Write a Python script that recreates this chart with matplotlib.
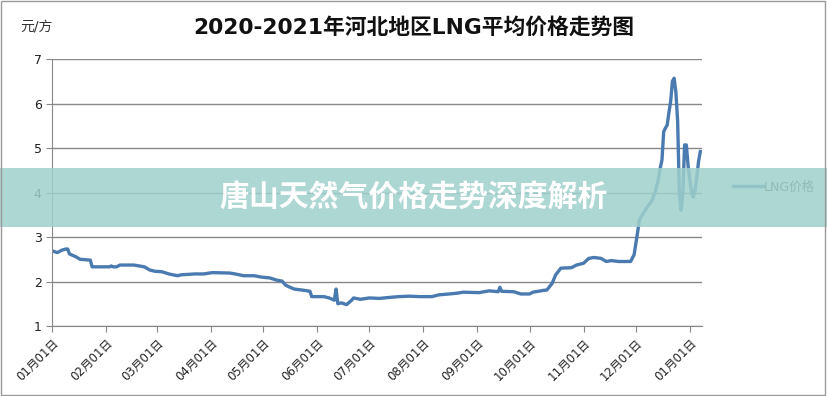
"""
2020-2021年河北地区LNG平均价格走势图 (recreated)
"""

import numpy as np
import pandas as pd
import matplotlib
matplotlib.use('Agg')
import matplotlib.pyplot as plt
import matplotlib.dates as mdates
from matplotlib.patches import Rectangle

plt.rcParams['font.family'] = ['DejaVu Sans', 'Noto Sans CJK SC']

# price points (元/方)
dates = [
    '2020-01-01', '2020-01-04', '2020-01-07', '2020-01-09', '2020-01-10', '2020-01-11',
    '2020-01-15', '2020-01-17', '2020-01-23', '2020-01-24', '2020-02-03', '2020-02-04',
    '2020-02-05', '2020-02-07', '2020-02-09', '2020-02-17', '2020-02-20', '2020-02-23',
    '2020-02-26', '2020-02-29', '2020-03-04', '2020-03-08', '2020-03-13', '2020-03-15',
    '2020-03-23', '2020-03-28', '2020-04-02', '2020-04-12', '2020-04-15', '2020-04-20',
    '2020-04-26', '2020-04-30', '2020-05-05', '2020-05-09', '2020-05-12', '2020-05-14',
    '2020-05-16', '2020-05-19', '2020-05-25', '2020-05-28', '2020-05-29', '2020-06-05',
    '2020-06-08', '2020-06-11', '2020-06-12', '2020-06-13', '2020-06-15', '2020-06-18',
    '2020-06-21', '2020-06-22', '2020-06-26', '2020-07-01', '2020-07-07', '2020-07-12',
    '2020-07-18', '2020-07-24', '2020-07-30', '2020-08-06', '2020-08-10', '2020-08-16',
    '2020-08-21', '2020-08-24', '2020-09-02', '2020-09-08', '2020-09-13', '2020-09-14',
    '2020-09-15', '2020-09-22', '2020-09-26', '2020-10-01', '2020-10-03', '2020-10-09',
    '2020-10-11', '2020-10-14', '2020-10-16', '2020-10-19', '2020-10-25', '2020-10-28',
    '2020-11-01', '2020-11-04', '2020-11-07', '2020-11-11', '2020-11-14', '2020-11-17',
    '2020-11-21', '2020-11-28', '2020-11-30', '2020-12-02', '2020-12-03', '2020-12-04',
    '2020-12-08', '2020-12-10', '2020-12-12', '2020-12-14', '2020-12-15', '2020-12-16',
    '2020-12-17', '2020-12-18', '2020-12-19', '2020-12-20', '2020-12-21', '2020-12-22',
    '2020-12-23', '2020-12-24', '2020-12-25', '2020-12-26', '2020-12-27', '2020-12-28',
    '2020-12-29', '2020-12-30', '2020-12-31', '2021-01-01', '2021-01-02', '2021-01-03',
    '2021-01-04', '2021-01-05', '2021-01-06', '2021-01-07',
]
prices = [
    2.69, 2.65, 2.71, 2.73, 2.73, 2.62,
    2.55, 2.50, 2.48, 2.33, 2.33, 2.35,
    2.33, 2.33, 2.37, 2.37, 2.35, 2.33,
    2.26, 2.23, 2.22, 2.17, 2.13, 2.15,
    2.17, 2.17, 2.20, 2.19, 2.17, 2.13,
    2.13, 2.10, 2.08, 2.03, 2.01, 1.92,
    1.88, 1.83, 1.80, 1.78, 1.66, 1.66,
    1.63, 1.58, 1.83, 1.50, 1.52, 1.48,
    1.58, 1.63, 1.60, 1.63, 1.62, 1.64,
    1.66, 1.67, 1.66, 1.66, 1.70, 1.72,
    1.74, 1.76, 1.75, 1.79, 1.77, 1.87,
    1.78, 1.77, 1.72, 1.72, 1.76, 1.80,
    1.81, 1.96, 2.15, 2.30, 2.31, 2.37,
    2.41, 2.52, 2.54, 2.52, 2.45, 2.47,
    2.45, 2.45, 2.60, 3.10, 3.38, 3.45,
    3.70, 3.80, 4.00, 4.30, 4.55, 4.73,
    5.37, 5.45, 5.52, 5.80, 6.05, 6.50,
    6.57, 6.25, 5.60, 3.95, 3.60, 4.00,
    5.07, 5.07, 4.60, 4.30, 4.00, 3.90,
    4.05, 4.35, 4.70, 4.92,
]
month_ticks = pd.date_range('2020-01-01', '2021-01-01', freq='MS')
y_ticks = [1, 2, 3, 4, 5, 6, 7]

title = '2020-2021年河北地区LNG平均价格走势图'
unit_label = '元/方'
series_name = 'LNG价格'
banner_text = '唐山天然气价格走势深度解析'

line_color = '#4a7bb0'
grid_color = '#888888'

fig = plt.figure(figsize=(8.27, 3.96), dpi=100)
ax = fig.add_axes([0.0629, 0.1768, 0.786, 0.674])

x = pd.to_datetime(dates)
ax.plot(x, prices, color=line_color, lw=2.4, solid_joinstyle='round', label=series_name)

ax.set_xlim(pd.Timestamp('2020-01-01'), pd.Timestamp('2021-01-08'))
ax.set_ylim(1, 7)
ax.set_yticks(y_ticks)
ax.set_xticks(month_ticks)
ax.xaxis.set_major_formatter(mdates.DateFormatter('%m月%d日'))
ax.grid(axis='y', color=grid_color, lw=1)
ax.set_axisbelow(True)
for s in ['top', 'right']:
    ax.spines[s].set_visible(False)
for s in ['left', 'bottom']:
    ax.spines[s].set_color(grid_color)
ax.tick_params(axis='both', colors=grid_color, length=4, labelcolor='#222222')
ax.tick_params(axis='y', labelsize=9)
ax.tick_params(axis='x', labelsize=8.5)
for lbl in ax.get_xticklabels():
    lbl.set_rotation(45)
    lbl.set_ha('right')
    lbl.set_rotation_mode('anchor')

fig.text(0.5, 0.93, title, ha='center', va='center', fontsize=15.7, fontweight='bold', color='#111111')
fig.text(0.024, 0.93, unit_label, ha='left', va='center', fontsize=10, color='#333333')

ax.legend(loc='center left', bbox_to_anchor=(1.03, 0.52), frameon=False, fontsize=9,
          handlelength=2.4, handletextpad=0.1, labelcolor='#444444')

# teal banner over the chart
fig.add_artist(Rectangle((0, 0.427), 1, 0.149, transform=fig.transFigure,
                         facecolor='#9fd0cc', alpha=0.85, edgecolor='none', zorder=10))
fig.text(0.5, 0.5, banner_text, ha='center', va='center', fontsize=21.5,
         fontweight='bold', color='white', zorder=11)

# thin outer frame
fig.add_artist(Rectangle((0.001, 0.002), 0.997, 0.995, transform=fig.transFigure,
                         facecolor='none', edgecolor='#999999', lw=1, zorder=12))

fig.savefig('out.png', dpi=100)
